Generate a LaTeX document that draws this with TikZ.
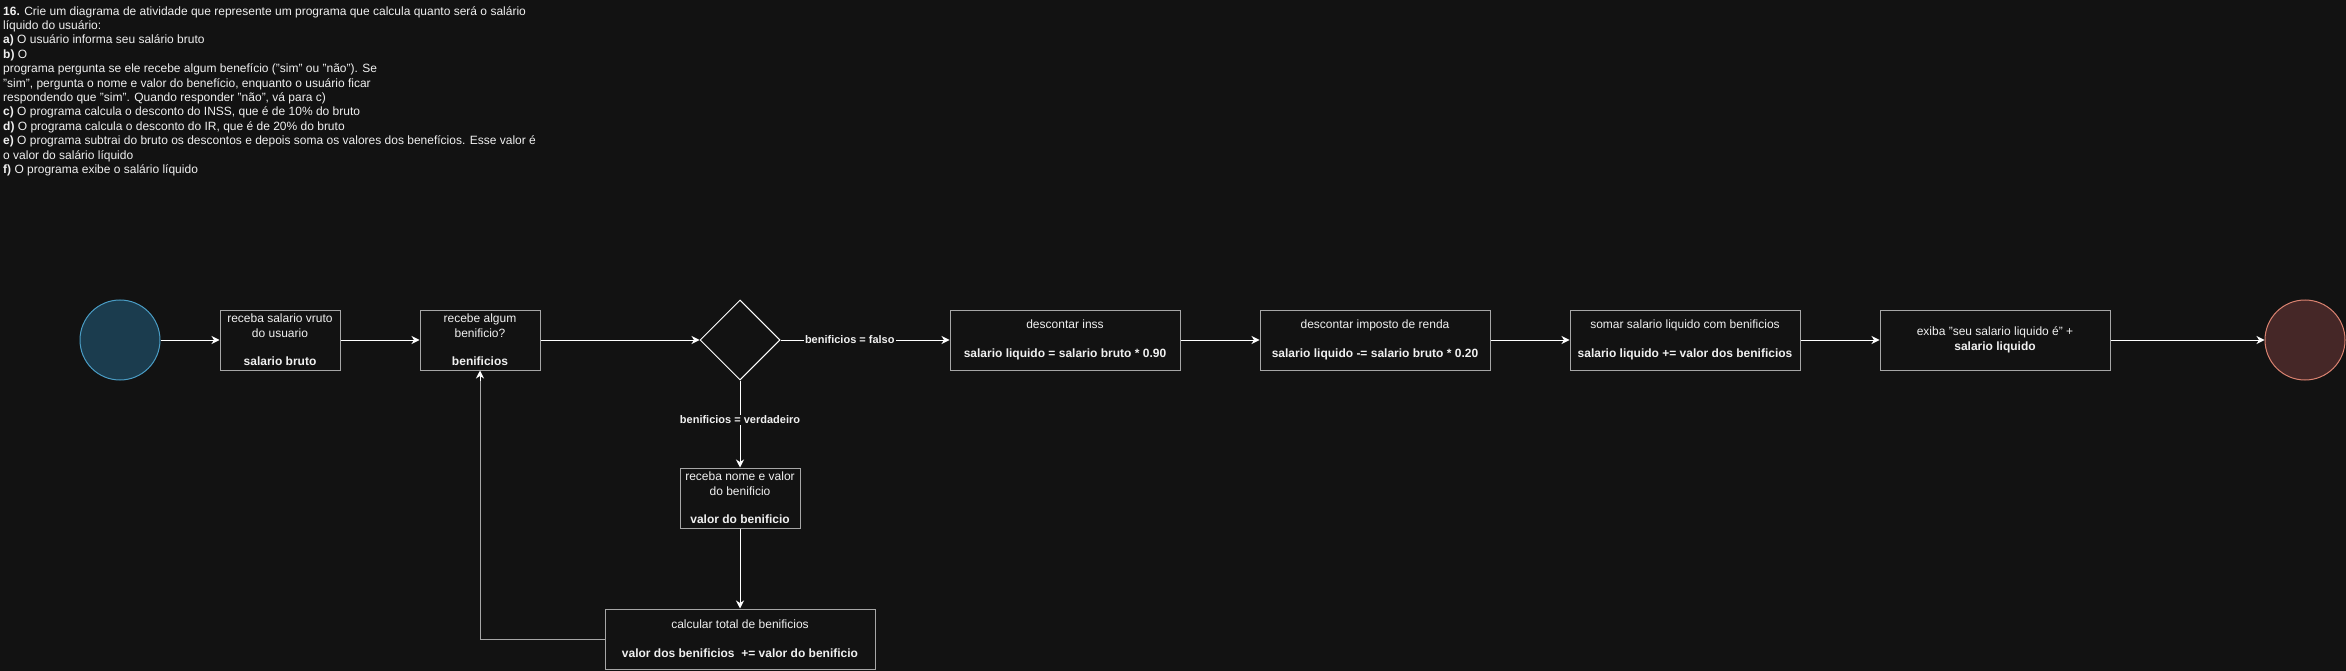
\documentclass[tikz,border=0pt]{standalone}
\usepackage{fontspec}
\setmainfont{Liberation Sans}
\usepackage{xcolor}
\usetikzlibrary{arrows.meta,positioning,shapes.geometric}
\definecolor{canvas}{HTML}{121212}
\definecolor{boxline}{HTML}{A6A6A6}
\definecolor{inkwhite}{HTML}{F0F0F0}
\definecolor{startfill}{HTML}{1B3C4E}
\definecolor{startline}{HTML}{4A9CC4}
\definecolor{endfill}{HTML}{452727}
\definecolor{endline}{HTML}{D98270}
\newcommand{\emptyrow}{\\[14.4pt]}

\begin{document}
\begin{tikzpicture}[x=1pt, y=-1pt,
  act/.style={draw=boxline, line width=1pt, minimum width=120pt, minimum height=60pt, inner sep=0pt, align=center, text=inkwhite, font=\fontsize{12pt}{14.4pt}\selectfont},
  wide/.style={act, minimum width=230pt},
  decision/.style={diamond, draw=white, line width=1pt, minimum width=80pt, minimum height=80pt, inner sep=0pt},
  startend/.style={circle, line width=1pt, minimum size=80pt, inner sep=0pt},
  arr/.style={-{Stealth[length=8pt, width=8pt, inset=2.5pt]}, line width=1pt, white},
  lbl/.style={fill=canvas, inner sep=1pt, text=inkwhite, font=\fontsize{11pt}{13pt}\selectfont\bfseries}
]
  \fill[canvas] (0,0) rectangle (2346,671);
  \useasboundingbox (0,0) rectangle (2346,671);

  \node[anchor=north west, inner sep=0pt, align=left, text=inkwhite, font=\fontsize{12pt}{14.4pt}\selectfont] (enunciado) at (3,6) {%
    \textbf{16.} Crie um diagrama de atividade que represente um programa que calcula quanto será o salário\\
    líquido do usuário:\\
    \textbf{a)} O usuário informa seu salário bruto\\
    \textbf{b)} O\\
    programa pergunta se ele recebe algum benefício ("sim" ou "não"). Se\\
    "sim", pergunta o nome e valor do benefício, enquanto o usuário ficar\\
    respondendo que "sim". Quando responder "não", vá para c)\\
    \textbf{c)} O programa calcula o desconto do INSS, que é de 10\% do bruto\\
    \textbf{d)} O programa calcula o desconto do IR, que é de 20\% do bruto\\
    \textbf{e)} O programa subtrai do bruto os descontos e depois soma os valores dos benefícios. Esse valor é\\
    o valor do salário líquido\\
    \textbf{f)} O programa exibe o salário líquido};

  \node[startend, fill=startfill, draw=startline] (inicio) at (120,340) {};
  \node[act] (salario) at (280,340) {receba salario vruto\\do usuario\emptyrow\textbf{salario bruto}};
  \node[act] (pergunta) at (480,340) {recebe algum\\benificio?\emptyrow\textbf{benificios}};
  \node[decision] (decisao) at (740,340) {};
  \node[wide] (inss) at (1065,340) {descontar inss\emptyrow\textbf{salario liquido = salario bruto * 0.90}};
  \node[wide] (imposto) at (1375,340) {descontar imposto de renda\emptyrow\textbf{salario liquido -= salario bruto * 0.20}};
  \node[wide] (somar) at (1685,340) {somar salario liquido com benificios\emptyrow\textbf{salario liquido += valor dos benificios}};
  \node[wide] (exiba) at (1995,340) {exiba "seu salario liquido é" +\\\textbf{salario liquido}};
  \node[startend, fill=endfill, draw=endline] (fim) at (2305,340) {};
  \node[act] (nome) at (740,498) {receba nome e valor\\do benificio\emptyrow\textbf{valor do benificio}};
  \node[act, minimum width=270pt] (total) at (740,639) {calcular total de benificios\emptyrow\textbf{valor dos benificios\ \ += valor do benificio}};

  \draw[arr] (inicio) -- (salario);
  \draw[arr] (salario) -- (pergunta);
  \draw[arr] (pergunta) -- (decisao);
  \draw[arr] (decisao.east) -- node[lbl, pos=0.41] {benificios = falso} (inss.west);
  \draw[arr] (decisao.south) -- node[lbl, pos=0.45] {benificios = verdadeiro} (nome.north);
  \draw[arr] (nome) -- (total);
  \draw[boxline, line width=1pt] (total.west) -| ([yshift=-10pt]pergunta.south);
  \draw[arr] ([yshift=-10pt]pergunta.south) -- (pergunta.south);
  \draw[arr] (inss) -- (imposto);
  \draw[arr] (imposto) -- (somar);
  \draw[arr] (somar) -- (exiba);
  \draw[arr] (exiba) -- (fim);
\end{tikzpicture}
\end{document}
